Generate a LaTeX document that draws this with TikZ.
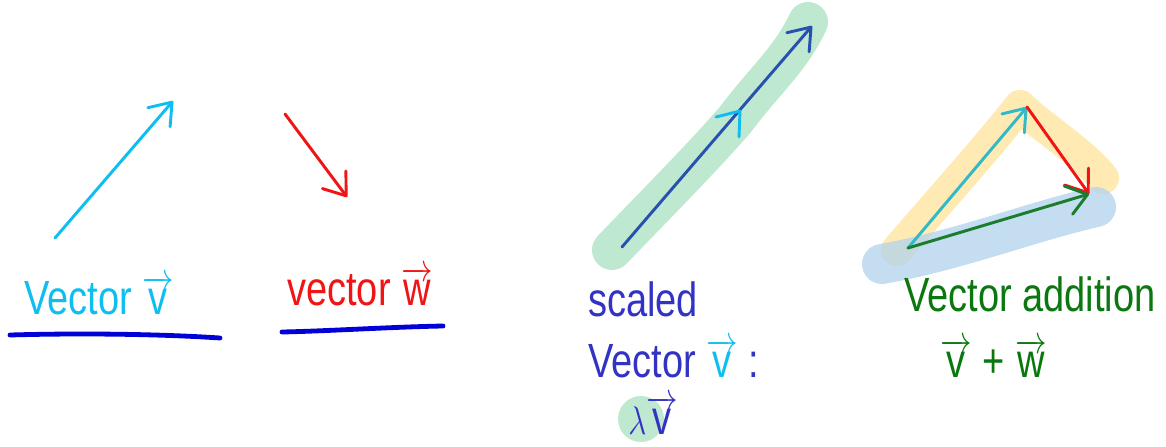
\documentclass[tikz,border=0pt]{standalone}
\usepackage{fontspec}
\setmainfont{Liberation Sans}
\usetikzlibrary{arrows.meta}
\definecolor{cyanv}{RGB}{15,190,240}
\definecolor{redw}{RGB}{240,20,20}
\definecolor{ulblue}{RGB}{0,0,215}
\definecolor{dkblue}{RGB}{50,50,195}
\definecolor{scblue}{RGB}{40,80,175}
\definecolor{hlgreen}{RGB}{190,232,208}
\definecolor{hlyellow}{RGB}{255,234,180}
\definecolor{hlblue}{RGB}{178,210,235}
\definecolor{tealv}{RGB}{50,185,200}
\definecolor{sumgreen}{RGB}{25,125,45}
\definecolor{txtgreen}{RGB}{10,120,15}
\newcommand{\myvec}[1]{$\overrightarrow{\mbox{#1}}$}
\newcommand{\hw}[1]{\scalebox{0.95}[1.2]{#1}}
\tikzset{
  vecline/.style={line width=2.2pt, line cap=round, line join=round,
    -{Straight Barb[length=15pt,width=22pt,line width=2.2pt,round]}},
  chev/.style={line width=2.2pt, line cap=round, line join=round},
  hilite/.style={line cap=round, line join=round},
  hand/.style={font=\fontsize{30}{36}\selectfont, anchor=base west, inner sep=0pt},
  underl/.style={line width=3.6pt, line cap=round, color=ulblue}
}
\begin{document}
\begin{tikzpicture}[x=0.75pt,y=-0.75pt]
\useasboundingbox (0,0) rectangle (1166,446);
% ---- vector v
\coordinate (v0) at (55,238);
\coordinate (v1) at (173,101);
\draw[vecline, cyanv] (v0) -- (v1);
% ---- vector w
\coordinate (w0) at (285,114);
\coordinate (w1) at (347,197);
\draw[vecline, redw] (w0) -- (w1);
% labels
\node[hand, cyanv] (lv) at (24,314) {\hw{Vector \myvec{v}}};
\node[hand, redw] (lw) at (287,305) {\hw{vector \myvec{w}}};
\coordinate (u1a) at (10,335); \coordinate (u1b) at (220,338);
\draw[underl] (u1a) .. controls (80,333) and (160,334) .. (u1b);
\coordinate (u2a) at (282,332); \coordinate (u2b) at (443,326);
\draw[underl] (u2a) .. controls (330,331) and (390,327) .. (u2b);
% ---- scaled vector
\coordinate (s0) at (622,247);
\coordinate (s1) at (812,26);
\coordinate (sm) at (740,111);
\draw[hilite, hlgreen, line width=30pt] (612,250) .. controls (660,200) and (700,160) .. (735,120) .. controls (765,80) and (790,60) .. (808,22);
\draw[vecline, scblue] (s0) -- (s1);
\draw[chev, cyanv] (716,117) -- (sm) -- (739,137);
\node[hand, dkblue] (ls1) at (588,316) {\hw{scaled}};
\node[hand, dkblue] (ls2) at (588,377) {\hw{Vector {\color{cyanv}\myvec{v}} :}};
\coordinate (lc) at (641,419);
\fill[hlgreen] (lc) circle (23);
\node[hand, dkblue] (ls3) at (628,434) {\hw{$\lambda$\myvec{v}}};
% ---- vector addition
\coordinate (a0) at (908,248);
\coordinate (a1) at (1027,107);
\coordinate (a2) at (1089,194);
\draw[hilite, hlyellow, line width=24pt] (897,250) .. controls (940,200) and (985,150) .. (1020,106) .. controls (1045,130) and (1080,150) .. (1103,178);
\draw[hilite, hlblue, line width=30pt, opacity=0.75] (882,264) .. controls (960,250) and (1030,222) .. (1096,207);
\draw[vecline, tealv] (a0) -- (a1);
\draw[vecline, redw] (a1) -- (a2);
\draw[vecline, sumgreen] (a0) -- (a2);
\node[hand, txtgreen] (la1) at (904,311) {\hw{Vector addition}};
\node[hand, txtgreen] (la2) at (940,377) {\hw{\myvec{v} + \myvec{w}}};
\end{tikzpicture}
\end{document}
